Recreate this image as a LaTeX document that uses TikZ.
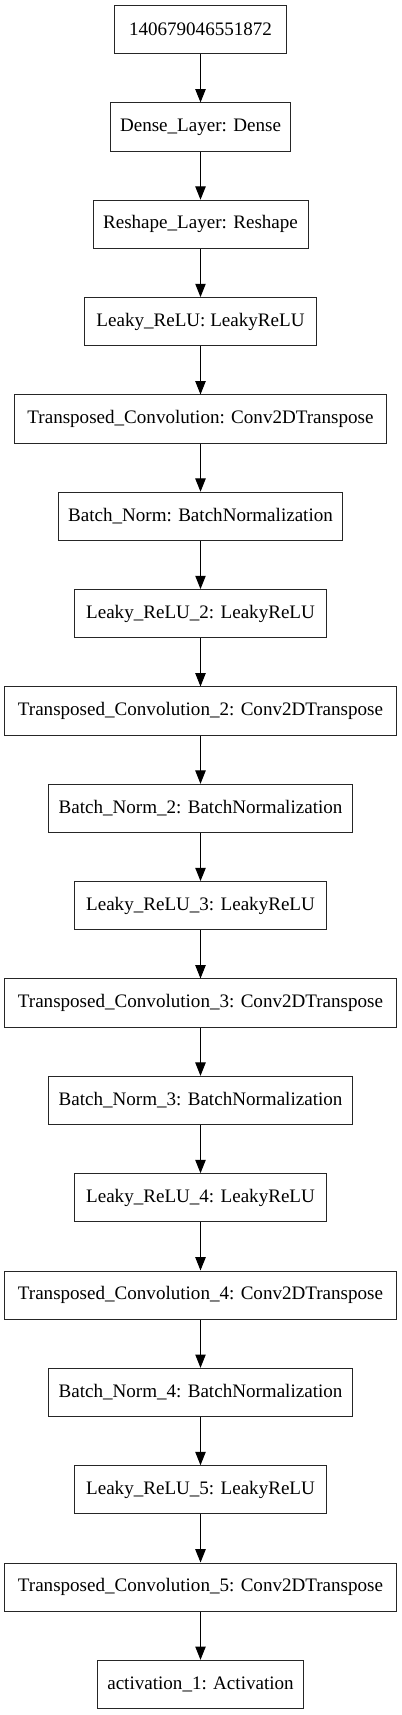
\documentclass[tikz,border=0pt]{standalone}
\usepackage{fontspec}
\setmainfont{Liberation Serif}
\usetikzlibrary{arrows.meta}
\begin{document}
\begin{tikzpicture}[x=0.75pt,y=-0.75pt,
  layer/.style={draw=black!85,line width=0.75pt,inner xsep=2pt,inner ysep=0pt,minimum height=36.2pt,font=\fontsize{14.3pt}{16pt}\selectfont},
  conn/.style={-{Triangle[length=10pt,width=7.8pt]},line width=0.75pt}]
\useasboundingbox (0,0) rectangle (401,1715);
\def\cx{200.5}
\def\st{97.34}
\foreach \name/\w/\txt [count=\i from 0] in {
 n0/172/140679046551872,
 n1/180.4/Dense\_Layer: Dense,
 n2/215/Reshape\_Layer: Reshape,
 n3/232.3/Leaky\_ReLU: LeakyReLU,
 n4/371.7/Transposed\_Convolution: Conv2DTranspose,
 n5/283.7/Batch\_Norm: BatchNormalization,
 n6/252.7/Leaky\_ReLU\_2: LeakyReLU,
 n7/391.7/Transposed\_Convolution\_2: Conv2DTranspose,
 n8/304.4/Batch\_Norm\_2: BatchNormalization,
 n9/252.7/Leaky\_ReLU\_3: LeakyReLU,
 n10/391.7/Transposed\_Convolution\_3: Conv2DTranspose,
 n11/304.4/Batch\_Norm\_3: BatchNormalization,
 n12/252.7/Leaky\_ReLU\_4: LeakyReLU,
 n13/391.7/Transposed\_Convolution\_4: Conv2DTranspose,
 n14/304.4/Batch\_Norm\_4: BatchNormalization,
 n15/252.7/Leaky\_ReLU\_5: LeakyReLU,
 n16/391.7/Transposed\_Convolution\_5: Conv2DTranspose,
 n17/205.6/activation\_1: Activation}
 \node[layer,minimum width=\w*0.75pt] (\name) at (\cx, 29.7+\i*\st) {\txt};
\foreach \a/\b in {n0/n1,n1/n2,n2/n3,n3/n4,n4/n5,n5/n6,n6/n7,n7/n8,n8/n9,n9/n10,n10/n11,n11/n12,n12/n13,n13/n14,n14/n15,n15/n16,n16/n17}
 \draw[conn] (\a) -- (\b);
\end{tikzpicture}
\end{document}
